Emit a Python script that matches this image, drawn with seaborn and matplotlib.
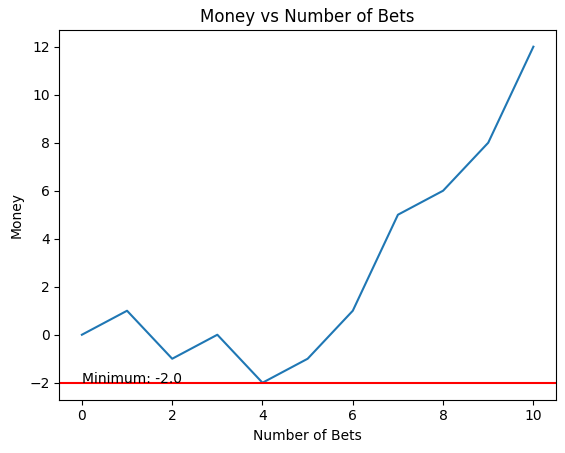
import numpy as np
import pandas as pd
import matplotlib
matplotlib.use("Agg")
import matplotlib.pyplot as plt
import seaborn as sns

# money after each bet
bets = list(range(11))
money = [0, 1, -1, 0, -2, -1, 1, 5, 6, 8, 12]
minimum = -2.0

df = pd.DataFrame({"bets": bets, "money": money})

fig, ax = plt.subplots(figsize=(5.65, 4.53), dpi=100)
fig.subplots_adjust(left=0.105, right=0.984, top=0.934, bottom=0.118)

sns.lineplot(x="bets", y="money", data=df, ax=ax)
ax.axhline(minimum, color="r")
ax.text(0, minimum, "Minimum: " + str(minimum))

ax.set_title("Money vs Number of Bets")
ax.set_xlabel("Number of Bets")
ax.set_ylabel("Money")

plt.savefig("out.png")
